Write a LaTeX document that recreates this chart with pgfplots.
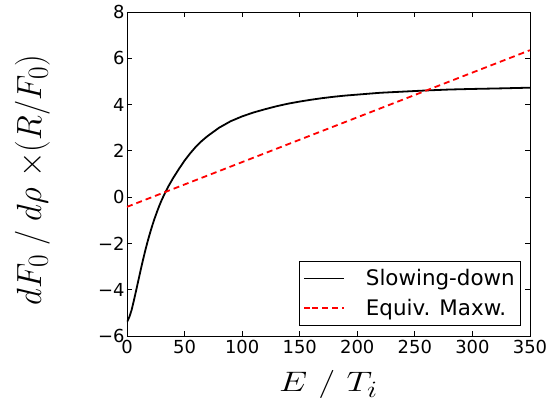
\documentclass[border=0pt]{standalone}
\usepackage{graphicx}
\usepackage{fontspec}
\setmainfont{DejaVu Sans}
\usepackage{pgfplots}
\pgfplotsset{compat=1.18}
\begin{document}
\begin{tikzpicture}
\begin{axis}[
  scale only axis,
  width=403bp, height=324bp,
  at={(0,0)}, anchor=south west,
  xmin=0, xmax=350, ymin=-6, ymax=8,
  xtick={0,50,100,150,200,250,300,350},
  ytick={-6,-4,-2,0,2,4,6,8},
  yticklabels={−6,−4,−2,0,2,4,6,8},
  /pgf/number format/assume math mode=true,
  tick label style={font=\fontsize{18}{21}\selectfont},
  xticklabel style={yshift=-1bp},
  yticklabel style={xshift=1bp},
  tick align=inside,
  major tick length=5bp,
  minor tick num=0,
  axis line style={line width=0.8bp},
  every tick/.style={black, line width=0.8bp},
  xlabel={\scalebox{1.45}[1.135]{\Huge $E\ /\ T_i$}},
  ylabel={\scalebox{1.325}[1.41]{\Huge $dF_0\;/\;d\rho\ {\times}(R/F_0)$}},
  xlabel style={at={(axis description cs:0.5,-0.172)}, anchor=base},
  ylabel style={at={(axis description cs:-0.2345,0.481)}, anchor=center},
  legend style={at={(axis description cs:0.978,0.031)}, anchor=south east,
    font=\fontsize{21.5}{25}\selectfont,
    draw=black, line width=0.8bp,
    inner xsep=4bp, inner ysep=6.5bp,
    row sep=8bp,
    cells={anchor=west},
    nodes={inner sep=2bp},
    /tikz/every odd column/.append style={column sep=19bp}},
  legend image code/.code={\path (0bp,0bp) -- (8bp,0bp); \draw[#1, line width=1.8bp] (8bp,0bp) -- (40bp,0bp);},
  legend cell align=left,
]
\addplot[black, line width=1.8bp] coordinates {
 (0,-5.40) (2,-5.18) (4,-4.88) (6,-4.46) (8,-4.02) (10,-3.57) (12,-3.12)
 (14,-2.69) (16,-2.28) (18,-1.90) (20,-1.55) (22,-1.22) (24,-0.92)
 (26,-0.64) (28,-0.38) (30,-0.14) (33,0.18) (36,0.47) (40,0.82)
 (45,1.21) (50,1.58) (55,1.90) (60,2.19) (65,2.43) (70,2.64) (80,3.00)
 (90,3.28) (100,3.49) (110,3.66) (120,3.80) (130,3.93) (140,4.04)
 (150,4.13) (160,4.21) (170,4.28) (180,4.34) (190,4.39) (200,4.43)
 (220,4.51) (240,4.56) (260,4.61) (280,4.65) (300,4.675) (325,4.70)
 (350,4.73)
};
\addlegendentry{Slowing-down}
\addplot[red, line width=1.8bp, dash pattern=on 6bp off 4bp] coordinates {
 (0,-0.42) (350,6.35)
};
\addlegendentry{Equiv. Maxw.}
\end{axis}
\pgfresetboundingbox
\path (-127bp,-66bp) rectangle (427bp,336bp);
\end{tikzpicture}
\end{document}
